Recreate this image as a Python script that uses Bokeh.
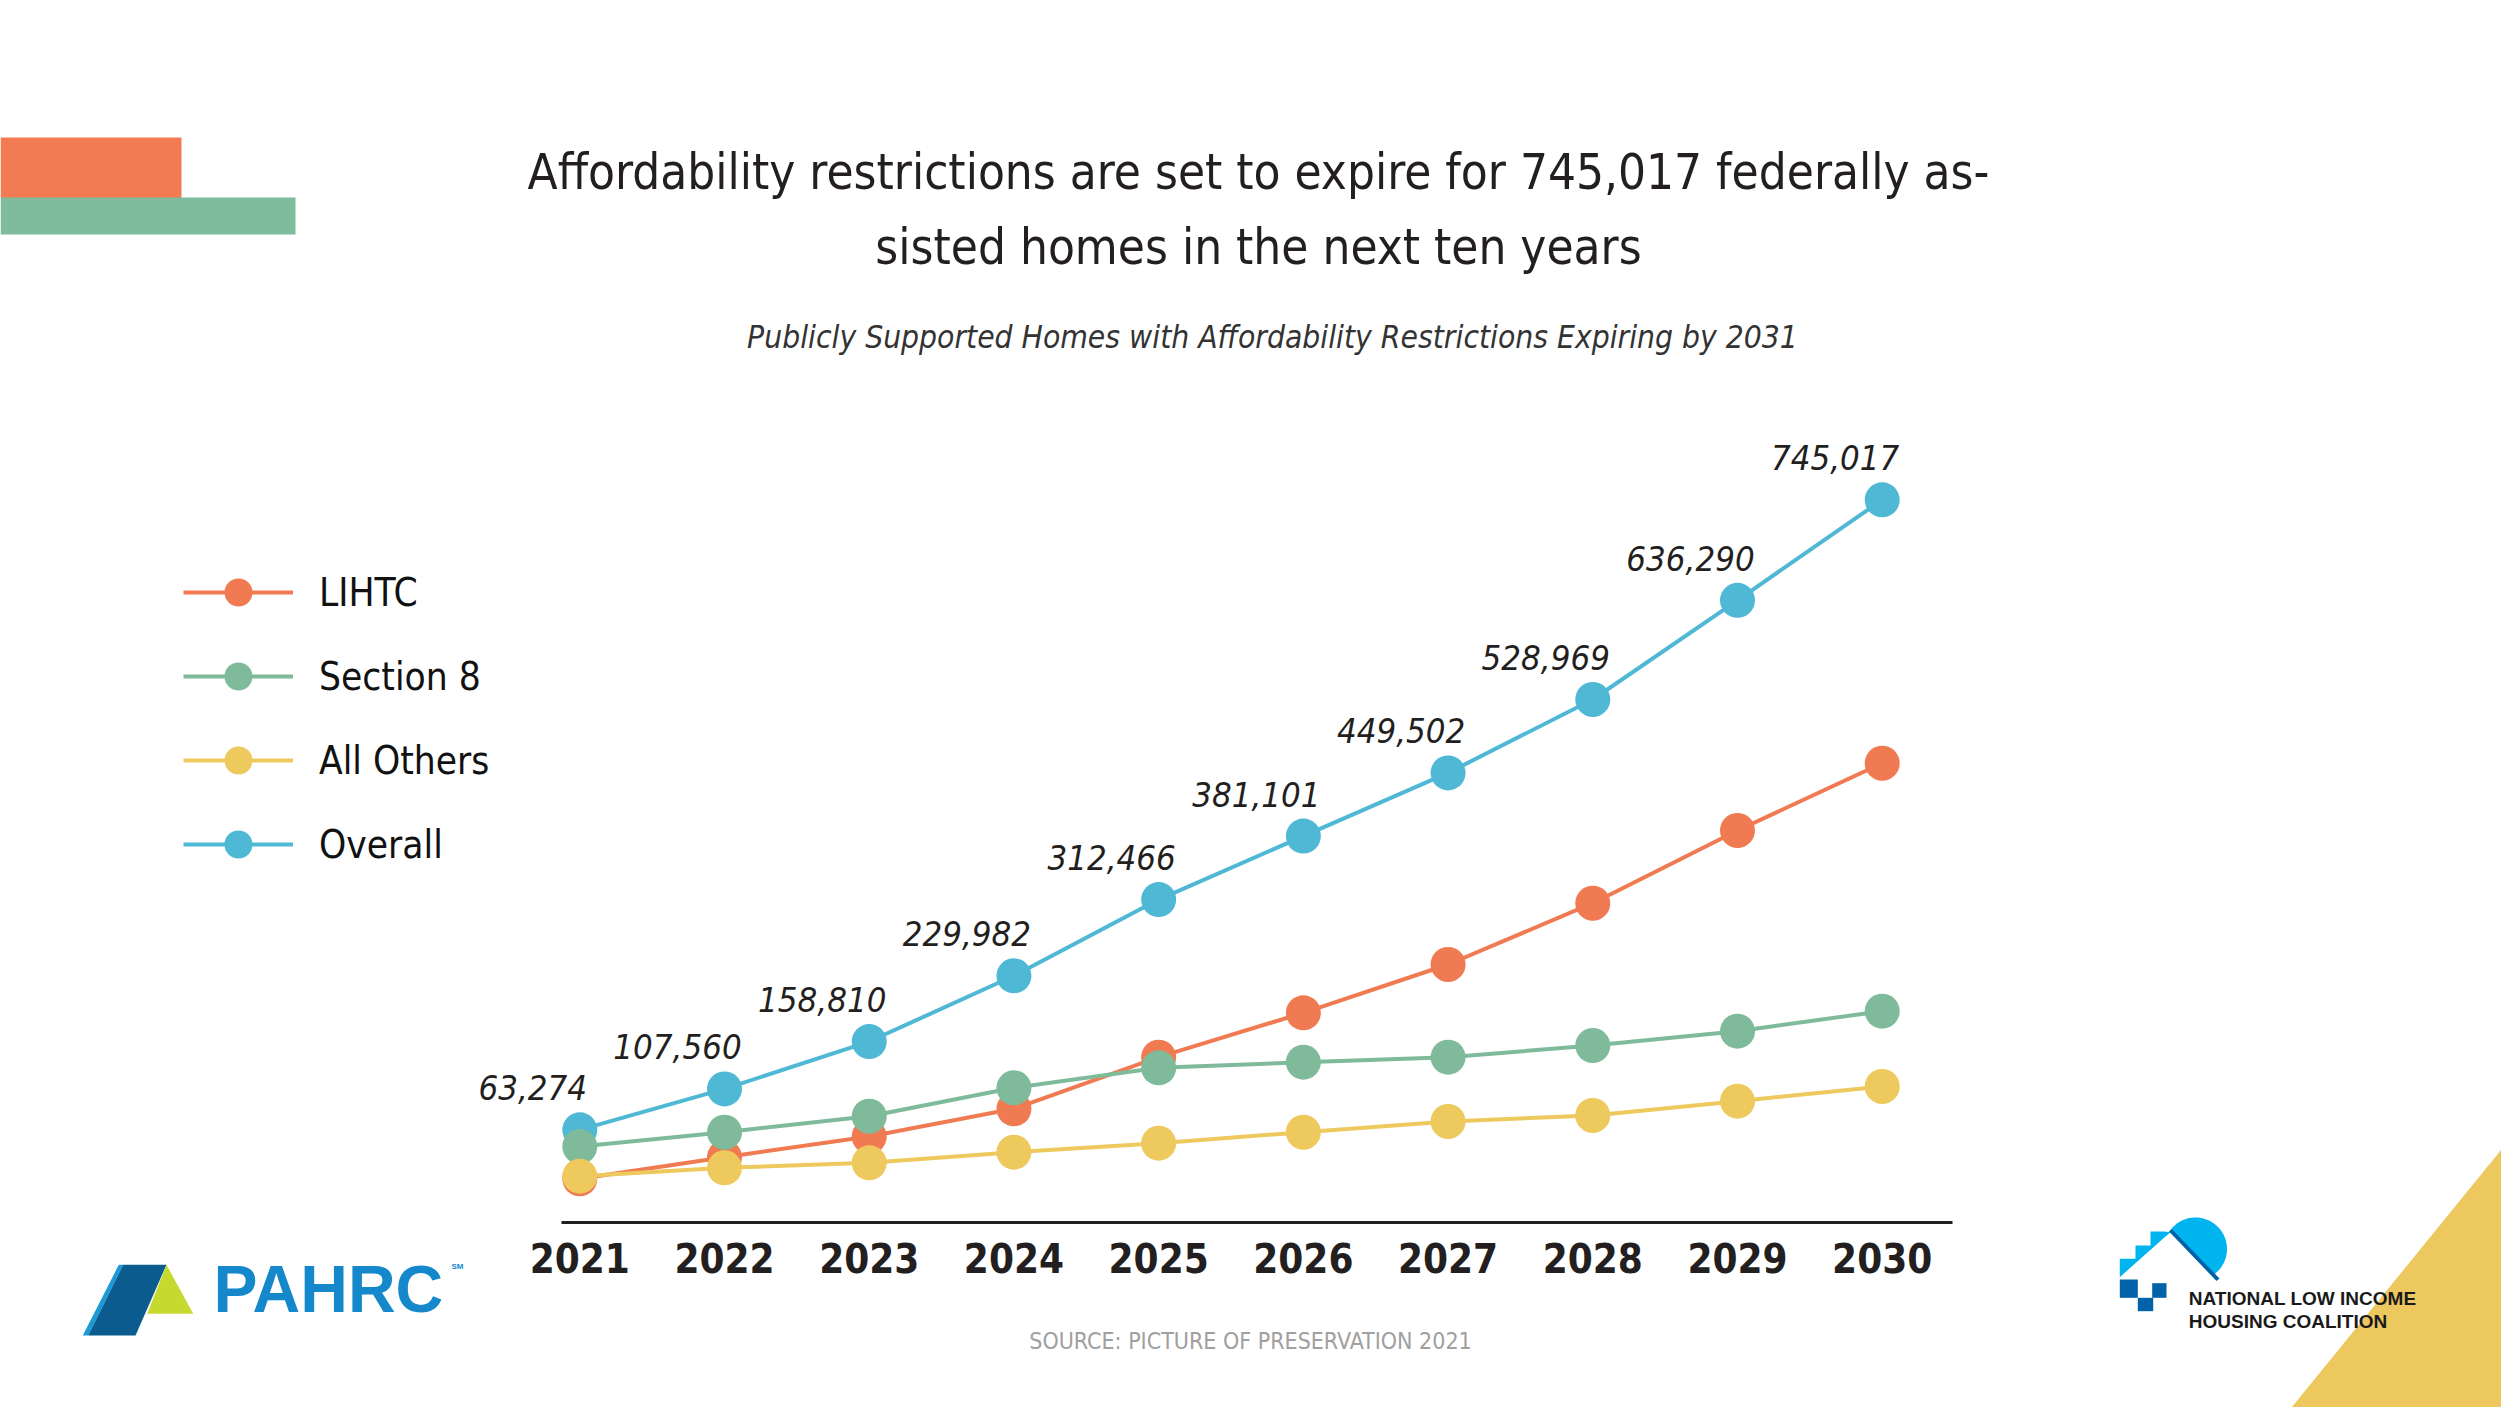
import numpy as np
from bokeh.plotting import figure
from bokeh.core.properties import value
from bokeh.models import (ColumnDataSource, Range1d, LinearAxis, FixedTicker, BasicTickFormatter,
                          Legend, LegendItem, LabelSet, Label, BoxAnnotation, PolyAnnotation)
from bokeh.embed import file_html
from bokeh.resources import INLINE

# ---------------- data ----------------
years = [2021, 2022, 2023, 2024, 2025, 2026, 2027, 2028, 2029, 2030]
lihtc = [10300, 33700, 56000, 86000, 141900, 189900, 242200, 308500, 387200, 460000]
section8 = [45200, 60700, 78000, 108800, 130400, 136500, 141900, 154500, 170000, 191700]
all_others = [13100, 22200, 27600, 39100, 48800, 60700, 72300, 78800, 94300, 110200]
overall = [63274, 107560, 158810, 229982, 312466, 381101, 449502, 528969, 636290, 745017]
series_names = ["LIHTC", "Section 8", "All Others", "Overall"]
title_lines = ["Affordability restrictions are set to expire for 745,017 federally as-",
               "sisted homes in the next ten years"]
subtitle = "Publicly Supported Homes with Affordability Restrictions Expiring by 2031"
source_text = "SOURCE: PICTURE OF PRESERVATION 2021"

# ---------------- layout (canvas pixels) ----------------
W, H = 2501, 1407
X_FIRST_PX, X_LAST_PX = 579.3, 1881.7      # where first / last year sit
Y_ZERO_PX, PX_PER_UNIT = 1187.8, 0.0009241  # where 0 sits, pixels per home
AXIS_Y_PX, AXIS_L_PX, AXIS_R_PX = 1222, 561, 1952

px_per_year = (X_LAST_PX - X_FIRST_PX) / (years[-1] - years[0])
def x_at(px):
    return years[0] + (px - X_FIRST_PX) / px_per_year
def y_at(py):
    return (Y_ZERO_PX - py) / PX_PER_UNIT

COND = "DejaVu Sans Condensed, Roboto Condensed, Roboto"
INK = "#231f20"
C_LIHTC, C_S8, C_OTH, C_ALL = "#f07b52", "#7fbb9a", "#eec95e", "#4fb8d5"

p = figure(width=W, height=H, x_range=Range1d(x_at(0), x_at(W)), y_range=Range1d(y_at(H), y_at(0)),
           x_axis_type=None, y_axis_type=None, toolbar_location=None, output_backend="svg",
           min_border=0, title=None,
           outline_line_color=None, background_fill_color="white", border_fill_color="white")

xaxis = LinearAxis(ticker=FixedTicker(ticks=years), formatter=BasicTickFormatter(use_scientific=False),
                   fixed_location=y_at(AXIS_Y_PX), bounds=(x_at(AXIS_L_PX), x_at(AXIS_R_PX)))
xaxis.axis_line_color = INK
xaxis.axis_line_width = 3
xaxis.major_tick_line_color = None
xaxis.minor_tick_line_color = None
xaxis.major_tick_out = 0
xaxis.major_tick_in = 0
xaxis.major_label_standoff = 20
xaxis.major_label_text_font = COND
xaxis.major_label_text_font_style = "bold"
xaxis.major_label_text_font_size = "40px"
xaxis.major_label_text_color = INK
p.add_layout(xaxis, "below")

# ---------------- decorations ----------------
def box(l, r, t, b, color):
    p.add_layout(BoxAnnotation(left=l, right=r, top=t, bottom=b,
                               left_units="canvas", right_units="canvas",
                               top_units="canvas", bottom_units="canvas",
                               fill_color=color, fill_alpha=1, line_color=None, level="underlay"))

def poly(xs, ys, color):
    p.add_layout(PolyAnnotation(xs=list(xs), ys=list(ys), xs_units="canvas", ys_units="canvas",
                                fill_color=color, fill_alpha=1, line_color=None, level="underlay"))

def label(x, y, text, font, size, color, style="normal", align="left"):
    p.add_layout(Label(x=x, y=y, x_units="canvas", y_units="canvas", text=text,
                       text_font=font, text_font_style=style, text_font_size=size,
                       text_color=color, text_align=align, text_baseline="alphabetic"))

box(0, 181, 137, 198, "#f27b53")
box(0, 295, 197, 234, "#7fbc9b")
poly([2501, 2501, 2291], [1149, 1407, 1407], "#edc85f")

# NLIHC logo
th = np.linspace(0, 2 * np.pi, 90)
poly(2195 + 31.5 * np.cos(th), 1248.5 + 31.5 * np.sin(th), "#00b5ef")
poly([2119.3, 2119.3, 2135, 2135, 2150, 2150, 2163.3, 2170],
     [1276.7, 1258.3, 1258.3, 1245, 1245, 1231, 1231, 1231.7], "#00b5ef")
poly([2170, 2217, 2230, 2230, 2119.3], [1231.7, 1280, 1282, 1300, 1277], "white")
poly([2168.5, 2171.5, 2219, 2216], [1231, 1228.8, 1278, 1280.5], "#0062a8")
box(2119.3, 2137.3, 1279, 1297.3, "#0062a8")
box(2151.7, 2166, 1282.7, 1297.3, "#0062a8")
box(2137.3, 2152.7, 1297.3, 1310.7, "#0062a8")
label(2188.3, 1298, "NATIONAL LOW INCOME", "Liberation Sans", "19px", "#1a1a1a", "bold")
label(2188.3, 1320.5, "HOUSING COALITION", "Liberation Sans", "19px", "#1a1a1a", "bold")

# PAHRC logo
poly([118.3, 122.7, 87.7, 82.3], [1264.3, 1264.3, 1335, 1335], "#1a9ad6")
poly([122.7, 166, 135, 87.7], [1264.3, 1264.3, 1335, 1335], "#0b5b8e")
poly([166, 192.7, 146.7], [1264.3, 1313.3, 1313.3], "#c6d92e")
label(213, 1288, "PAHRC", "Liberation Sans", "66px", "#1488ca", "bold")
label(451, 1266, "SM", "Liberation Sans", "8px", "#1488ca", "bold")

# titles and source
label(1258, 172, title_lines[0], COND, "49px", INK, align="center")
label(1258, 247, title_lines[1], COND, "49px", INK, align="center")
label(1272, 336, subtitle, COND, "31.5px", "#333333", "italic", align="center")
label(1250, 1340, source_text, COND, "23px", "#a0a0a0", align="center")

# ---------------- data series ----------------
src = ColumnDataSource(dict(year=years, lihtc=lihtc, s8=section8, oth=all_others, all=overall,
                            lab=[f"{v:,}" for v in overall]))
LW, MS = 4, 35
renderers = {}
for key, col, name in [("all", C_ALL, "Overall"), ("lihtc", C_LIHTC, "LIHTC"),
                       ("s8", C_S8, "Section 8"), ("oth", C_OTH, "All Others")]:
    lr = p.line("year", key, source=src, line_color=col, line_width=LW)
    sr = p.scatter("year", key, source=src, size=MS, fill_color=col, line_color=None)
    renderers[name] = [lr, sr]

p.add_layout(LabelSet(x="year", y="all", text="lab", source=src, x_offset=-47, y_offset=42,
                      text_font=value(COND), text_font_style="italic", text_font_size="34.5px",
                      text_color=INK, text_align="center", text_baseline="middle"))

legend = Legend(items=[LegendItem(label=n, renderers=renderers[n]) for n in series_names],
                location=(183, H - 879))
legend.glyph_width = 110
legend.glyph_height = 70
legend.spacing = 14
legend.padding = 0
legend.margin = 0
legend.label_standoff = 26
legend.border_line_color = None
legend.background_fill_alpha = 0
legend.label_text_font = COND
legend.label_text_font_size = "38.5px"
legend.label_text_color = "#111111"
p.add_layout(legend, "center")

open("out.html", "w").write(file_html(p, INLINE))
